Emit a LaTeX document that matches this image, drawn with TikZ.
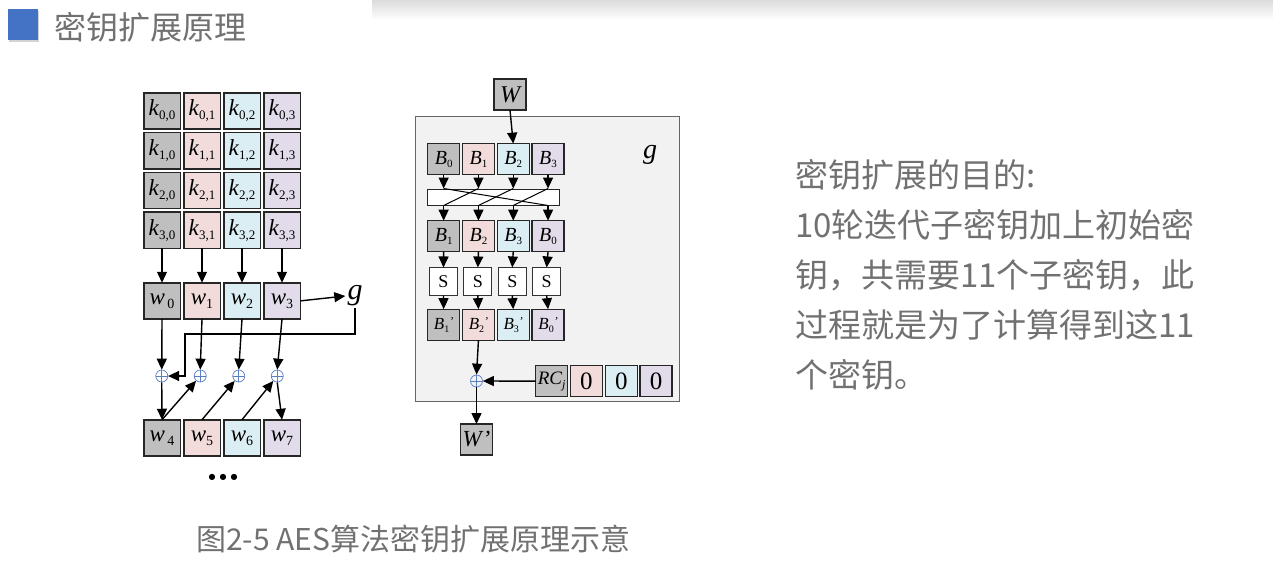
\documentclass[tikz,border=0pt]{standalone}
\usepackage{fontspec}
\setmainfont{Liberation Serif}
\newfontfamily\cjk{Noto Sans CJK SC}
\newfontfamily\dejavu{DejaVu Sans}
\usetikzlibrary{arrows.meta,positioning,shadows}

\definecolor{cellgray}{HTML}{BFBFBF}
\definecolor{cellpink}{HTML}{F2DCDB}
\definecolor{cellblue}{HTML}{DBEEF3}
\definecolor{cellpurple}{HTML}{E1DBEA}
\definecolor{txtgray}{HTML}{717171}
\definecolor{titleblue}{HTML}{4472C4}
\definecolor{xorblue}{HTML}{5B7FC2}
\definecolor{gback}{HTML}{F2F2F2}

% labels with lowered indices
\newcommand\ksub[2]{\textit{#1}\raisebox{-4pt}{\fontsize{13}{13}\selectfont #2}}
\newcommand\wsub[1]{\textit{w}\raisebox{-4pt}{\fontsize{14}{14}\selectfont #1}}
\newcommand\bsub[1]{\textit{B}\raisebox{-3pt}{\fontsize{11}{11}\selectfont #1}}
\newcommand\bprime[1]{\textit{B}\raisebox{-3pt}{\fontsize{10}{10}\selectfont #1}\raisebox{4pt}{\fontsize{12}{12}\selectfont\textit{'}}}

\tikzset{
	col0/.style={fill=cellgray},
	col1/.style={fill=cellpink},
	col2/.style={fill=cellblue},
	col3/.style={fill=cellpurple},
	rowmat/.style={matrix, anchor=north west, inner sep=0pt, outer sep=0pt},
	kcell/.style={draw=black!85, line width=1.5pt, outer sep=0pt, inner sep=0pt,
		minimum width=36.5pt, minimum height=36.3pt, font=\fontsize{23}{23}\selectfont},
	bcell/.style={draw=black!85, line width=1.3pt, outer sep=0pt, inner sep=0pt,
		minimum width=32pt, minimum height=31pt, font=\fontsize{20}{20}\selectfont},
	sbox/.style={draw=black!80, line width=0.9pt, fill=white, outer sep=0pt, inner sep=0pt,
		minimum width=28pt, minimum height=28pt, font=\fontsize{18}{18}\selectfont},
	xor/.style={circle, draw=xorblue, line width=0.7pt, minimum size=12pt, inner sep=0pt,
		path picture={\draw[xorblue, line width=0.6pt]
			(path picture bounding box.north) -- (path picture bounding box.south)
			(path picture bounding box.west) -- (path picture bounding box.east);}},
	arr/.style={-{Triangle[length=11pt,width=10pt]}, line width=1.4pt},
	cjktext/.style={inner sep=0pt, text=txtgray, align=left},
}

\begin{document}
\begin{tikzpicture}[x=1pt,y=-1pt]
	\useasboundingbox (0,0) rectangle (1273,583);
	% slide shadow at the top
	\shade[top color=black!14, bottom color=white] (372,0) rectangle (1273,20);

	% title
	\node[fill=titleblue, minimum width=30pt, minimum height=31pt, inner sep=0pt,
		drop shadow={opacity=0.35, shadow xshift=1pt, shadow yshift=-2pt}] (mark) at (23,25) {};
	\node[cjktext, anchor=west, font=\cjk\fontsize{32}{32}\selectfont] (title) at (54,27) {密钥扩展原理};

	% key matrix
	\matrix (keys) [rowmat, column sep=2pt, row sep=2pt] at (143,92) {
		\node[kcell,col0] (k00) {\ksub{k}{0,0}}; & \node[kcell,col1] (k01) {\ksub{k}{0,1}}; & \node[kcell,col2] (k02) {\ksub{k}{0,2}}; & \node[kcell,col3] (k03) {\ksub{k}{0,3}}; \\
		\node[kcell,col0] (k10) {\ksub{k}{1,0}}; & \node[kcell,col1] (k11) {\ksub{k}{1,1}}; & \node[kcell,col2] (k12) {\ksub{k}{1,2}}; & \node[kcell,col3] (k13) {\ksub{k}{1,3}}; \\
		\node[kcell,col0] (k20) {\ksub{k}{2,0}}; & \node[kcell,col1] (k21) {\ksub{k}{2,1}}; & \node[kcell,col2] (k22) {\ksub{k}{2,2}}; & \node[kcell,col3] (k23) {\ksub{k}{2,3}}; \\
		\node[kcell,col0] (k30) {\ksub{k}{3,0}}; & \node[kcell,col1] (k31) {\ksub{k}{3,1}}; & \node[kcell,col2] (k32) {\ksub{k}{3,2}}; & \node[kcell,col3] (k33) {\ksub{k}{3,3}}; \\
	};

	% words w0..w3 and w4..w7
	\matrix (wtop) [rowmat, column sep=2pt] at (143,282) {
		\node[kcell,col0] (w0) {\wsub{\,0}}; & \node[kcell,col1] (w1) {\wsub{1}}; & \node[kcell,col2] (w2) {\wsub{2}}; & \node[kcell,col3] (w3) {\wsub{3}}; \\
	};
	\matrix (wbot) [rowmat, column sep=2pt] at (143,419) {
		\node[kcell,col0] (w4) {\wsub{\,4}}; & \node[kcell,col1] (w5) {\wsub{5}}; & \node[kcell,col2] (w6) {\wsub{6}}; & \node[kcell,col3] (w7) {\wsub{7}}; \\
	};
	\node[font=\fontsize{30}{30}\selectfont\itshape, inner sep=2pt] (gl) at (355,296) {g};
	\node[xor] (x0) at (161.75,376) {};
	\node[xor] (x1) at (200.25,376) {};
	\node[xor] (x2) at (238.75,376) {};
	\node[xor] (x3) at (277.25,376) {};
	\coordinate (gturn) at (185,334);
	\node[font=\dejavu\fontsize{8}{8}\selectfont, inner sep=0pt] (dots) at (223,477) {●\hspace{4pt}●\hspace{4pt}●};

	\draw[arr] (k30.south) -- (w0.north);
	\draw[arr] (k31.south) -- (w1.north);
	\draw[arr] (k32.south) -- (w2.north);
	\draw[arr] (k33.south) -- (w3.north);
	\draw[arr] (w3.east) -- (gl.west);
	\draw[arr] (gl.south) |- (gturn) |- (x0.east);
	\draw[arr] (w0.south) -- (x0.north);
	\draw[arr] (w1.south) -- (x1.north);
	\draw[arr] (w2.south) -- (x2.north);
	\draw[arr] (w3.south) -- (x3.north);
	\draw[arr] (x0.south) -- (w4.north);
	\draw[arr] (w4.north) -- (x1);
	\draw[arr] (w5.north) -- (x2);
	\draw[arr] (w6.north) -- (x3);
	\draw[arr] (x3.south) -- (w7.north);

	% function g
	\node[draw=black!60, fill=gback, line width=0.8pt, minimum width=264pt, minimum height=285pt] (gframe) at (547,258.5) {};
	\node[font=\fontsize{28}{28}\selectfont\itshape] (glabel) at (650,155) {g};
	\node[bcell,col0, font=\fontsize{24}{24}\selectfont\itshape] (W) at (510,94.5) {W};
	\matrix (brow) [rowmat, column sep=1.5pt] at (427,143) {
		\node[bcell,col0] (b0) {\bsub{0}}; & \node[bcell,col1] (b1) {\bsub{1}}; & \node[bcell,col2] (b2) {\bsub{2}}; & \node[bcell,col3] (b3) {\bsub{3}}; \\
	};
	\node[draw=black!85, line width=1pt, fill=white, minimum width=132.5pt, minimum height=16pt, inner sep=0pt] (perm) at (493.25,197) {};
	\matrix (crow) [rowmat, column sep=1.5pt] at (427,220) {
		\node[bcell,col0] (c0) {\bsub{1}}; & \node[bcell,col1] (c1) {\bsub{2}}; & \node[bcell,col2] (c2) {\bsub{3}}; & \node[bcell,col3] (c3) {\bsub{0}}; \\
	};
	\matrix (srow) [rowmat, column sep=5.5pt] at (429,267) {
		\node[sbox] (s0) {S}; & \node[sbox] (s1) {S}; & \node[sbox] (s2) {S}; & \node[sbox] (s3) {S}; \\
	};
	\matrix (drow) [rowmat, column sep=1.5pt] at (427,308.5) {
		\node[bcell,col0,font=\fontsize{17}{17}\selectfont] (d0) {\bprime{1}}; & \node[bcell,col1,font=\fontsize{17}{17}\selectfont] (d1) {\bprime{2}}; & \node[bcell,col2,font=\fontsize{17}{17}\selectfont] (d2) {\bprime{3}}; & \node[bcell,col3,font=\fontsize{17}{17}\selectfont] (d3) {\bprime{0}}; \\
	};
	\node[xor] (xg) at (476.5,381) {};
	\matrix (rcrow) [rowmat, column sep=1.5pt] at (535,365) {
		\node[bcell,col0,font=\fontsize{19}{19}\selectfont] (rc0) {\textit{RC}\raisebox{-4pt}{\fontsize{12}{12}\selectfont\textit{j}}}; & \node[bcell,col1,font=\fontsize{25}{25}\selectfont] (rc1) {0}; & \node[bcell,col2,font=\fontsize{25}{25}\selectfont] (rc2) {0}; & \node[bcell,col3,font=\fontsize{25}{25}\selectfont] (rc3) {0}; \\
	};
	\node[bcell,col0, font=\fontsize{23}{23}\selectfont\itshape] (Wp) at (476.5,439.5) {W\kern1pt'};

	\draw[arr] (W.south) -- (b2.north);
	\draw[arr] (b0.south) -- (b0 |- perm.north);
	\draw[arr] (b1.south) -- (b1 |- perm.north);
	\draw[arr] (b2.south) -- (b2 |- perm.north);
	\draw[arr] (b3.south) -- (b3 |- perm.north);
	\draw[line width=1pt] (b0 |- perm.north) -- (c3 |- perm.south);
	\draw[line width=1pt] (b1 |- perm.north) -- (c0 |- perm.south);
	\draw[line width=1pt] (b2 |- perm.north) -- (c1 |- perm.south);
	\draw[line width=1pt] (b3 |- perm.north) -- (c2 |- perm.south);
	\draw[arr] (c0 |- perm.south) -- (c0.north);
	\draw[arr] (c1 |- perm.south) -- (c1.north);
	\draw[arr] (c2 |- perm.south) -- (c2.north);
	\draw[arr] (c3 |- perm.south) -- (c3.north);
	\draw[arr] (c0.south) -- (s0.north);
	\draw[arr] (c1.south) -- (s1.north);
	\draw[arr] (c2.south) -- (s2.north);
	\draw[arr] (c3.south) -- (s3.north);
	\draw[arr] (s0.south) -- (d0.north);
	\draw[arr] (s1.south) -- (d1.north);
	\draw[arr] (s2.south) -- (d2.north);
	\draw[arr] (s3.south) -- (d3.north);
	\draw[arr] (d1.south) -- (xg.north);
	\draw[arr] (rc0.west) -- (xg.east);
	\draw[arr] (xg.south) -- (Wp.north);

	% explanation and caption
	\node[cjktext, anchor=north west, font=\cjk\fontsize{33}{50}\selectfont] (note) at (795,159)
		{密钥扩展的目的:\\10轮迭代子密钥加上初始密\\钥，共需要11个子密钥，此\\过程就是为了计算得到这11\\个密钥。};
	\node[cjktext, anchor=west, font=\cjk\fontsize{30}{30}\selectfont] (caption) at (196,539) {图2-5 AES算法密钥扩展原理示意};
\end{tikzpicture}
\end{document}
